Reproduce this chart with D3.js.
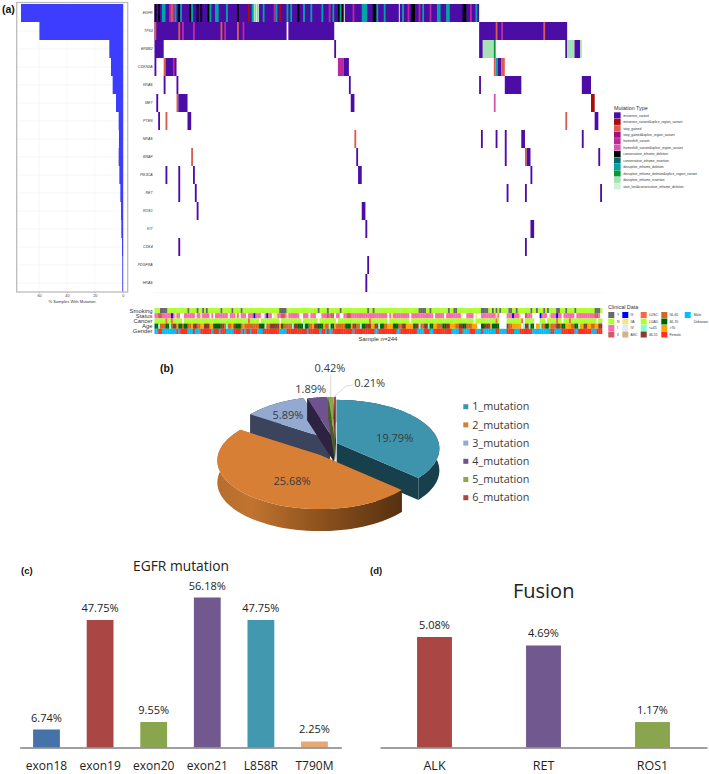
<!DOCTYPE html>
<html><head><meta charset="utf-8">
<script src="https://cdn.jsdelivr.net/npm/d3@7"></script>
<style>html,body{margin:0;padding:0;background:#fff}svg{display:block}text{fill:#333}</style>
</head><body><svg id="c" width="709" height="774"></svg>
<script>
// ---------- panel (a) data ----------
const genes = ["EGFR","TP53","ERBB2","CDKN2A","KRAS","MET","PTEN","NRAS","BRAF","PIK3CA","RET","ROS1","KIT","CDK4","PDGFRA","HRAS"];
const genePct = [72.9,59.7,9.6,8.4,7.2,4.8,2.9,2.7,2.9,2.4,1.7,1.2,1,0.5,0.3,0.3];
const mutationTypes = ["missense_variant","missense_variant&splice_region_variant","stop_gained","stop_gained&splice_region_variant","frameshift_variant","frameshift_variant&splice_region_variant","conservative_inframe_deletion","conservative_inframe_insertion","disruptive_inframe_deletion","disruptive_inframe_deletion&splice_region_variant","disruptive_inframe_insertion","start_lost&conservative_inframe_deletion"];
const mutationColors = ["#4b0aa5","#aa0a0a","#dc5a50","#a5107a","#bb2c9c","#d854b0","#000000","#006a6a","#00a5a5","#009a3c","#a8e2b4","#d0f0dc"];
// runs are [first sample, number of samples, mutation type]
const egfrRuns = [[0,177,0],[0,1,6],[2,1,6],[4,2,8],[8,3,4],[9,1,2],[11,1,8],[13,1,6],[14,1,8],[19,1,6],[20,1,8],[23,1,6],[25,1,6],[29,1,6],[30,1,8],[33,2,8],[39,1,8],[45,1,6],[51,1,1],[53,1,8],[54,1,10],[56,1,10],[55,1,11],[59,1,8],[65,1,4],[66,1,8],[68,1,1],[72,1,8],[74,1,8],[78,1,6],[81,1,8],[85,1,8],[91,1,8],[95,1,4],[97,1,8],[100,1,6],[101,1,8],[102,1,6],[108,1,4],[113,3,8],[119,2,6],[121,1,8],[125,1,8],[135,1,8],[138,1,4],[140,2,6],[144,1,4],[146,1,8],[150,1,4],[154,2,8],[159,2,8],[168,2,6],[172,1,4],[175,1,8]];
const egfrGaps = [103,133];
const tp53Runs = [[0,72,0],[73,25,0],[177,48,0],[0,1,2],[13,1,2],[15,1,4],[21,1,4],[36,1,2],[38,1,4],[45,1,2],[48,1,4],[186,1,2],[189,1,4],[212,1,2]];
const erbb2Runs = [[0,5,0],[98,1,0],[177,2,0],[179,6,10],[185,1,9],[224,1,0],[225,4,10],[229,3,0],[232,1,10]];
const cdkn2aRuns = [[0,1,0],[5,1,2],[6,6,0],[10,1,4],[100,3,4],[103,3,0],[185,1,2],[186,1,8],[187,2,0],[189,2,2]];
const krasRuns = [[5,1,0],[12,1,0],[106,1,0],[177,1,0],[191,9,0],[233,5,0]];
const metRuns = [[1,1,0],[12,1,2],[13,5,0],[107,2,0],[185,1,5],[238,2,1]];
const ptenRuns = [[2,1,0],[6,1,2],[18,2,0],[224,1,2],[240,2,0]];
const nrasRuns = [[109,1,2],[178,1,0],[186,1,0],[191,1,0],[200,2,0],[233,1,0]];
const brafRuns = [[20,1,2],[110,1,0],[191,1,0],[202,1,2],[203,2,0],[242,1,0]];
const pik3caRuns = [[6,1,0],[13,1,0],[21,1,0],[111,2,0],[205,1,0]];
const retRuns = [[13,1,0],[22,1,0],[192,1,0],[202,1,0],[243,1,0]];
const ros1Runs = [[23,1,0],[113,2,0]];
const kitRuns = [[115,1,0],[205,2,0]];
const cdk4Runs = [[13,1,0],[202,1,0]];
const pdgfraRuns = [[116,1,0]];
const hrasRuns = [[115,1,0]];
const geneRuns = [egfrRuns,tp53Runs,erbb2Runs,cdkn2aRuns,krasRuns,metRuns,ptenRuns,nrasRuns,brafRuns,pik3caRuns,retRuns,ros1Runs,kitRuns,cdk4Runs,pdgfraRuns,hrasRuns];

const clinicalTracks = ["Smoking","Status","Cancer","Age","Gender"];
const clinicalColors = {Y:"#696969",N:"#adff2f",I:"#ff69b4",II:"#cd5c5c",III:"#0000ff",IIA:"#f0e68c",IV:"#e6e6fa",ASC:"#d2b48c",LUSC:"#ff6347",LUAD:"#adff2f","<=45":"#7fffd4","46-55":"#8b3a2a","56-65":"#d2691e","66-70":"#006400",">70":"#ffa500",Female:"#ff3020",Male:"#00bfff",Unknown:"#ffffff"};
const smokingYes = [3,4,5,6,18,23,26,28,36,42,47,68,69,70,71,89,94,101,116,119,144,145,146,147,150,160,163,164,178,179,180,181,184,186,188,193,194,197,205,208,212,214,219,220,224,229,240,241,242];
const statusII = [2,3,69,70,94,96,97,105,106,240,241,201,202];
const statusIII = [9,54,61,195,210,219];
const statusIIA = [11,25,44,65,66,72,129,167,175,186,199,215];
const statusUnknown = [14,15,22,30,32,40,46,50,58,59,64,79,80,84,88,89,90,98,101,102,127,139,152,158,168,169,174,176,177,188,189,190,191,200,201,206,207,208,209,214,222,229,243];
const cancerLUSC = [6,9,51,117,186,191,200,219,226];
const cancerUnknown = [15,57,68,80,89,99,127,139,174,188,189,190,191,201,207,208,209,213,222,241];
// age: repeated [count, label] runs along the samples
const ageRuns = [[2,"66-70"],[1,"<=45"],[3,"56-65"],[2,"66-70"],[1,"<=45"],[1,"56-65"],[2,"46-55"],[1,">70"],[2,"66-70"],[1,"56-65"],[2,"66-70"],[2,"56-65"],[1,">70"],[2,"46-55"],[2,"56-65"],[2,">70"],[3,"46-55"],[2,">70"],[4,"66-70"],[2,"46-55"],[1,"56-65"],[1,"<=45"],[2,"56-65"],[1,">70"],[1,"46-55"],[3,"66-70"],[1,"56-65"],[1,">70"],[8,"56-65"],[3,"66-70"],[1,"<=45"],[2,"56-65"],[5,"46-55"],[1,">70"],[1,"66-70"],[5,"56-65"],[1,"<=45"],[2,"46-55"],[3,"66-70"],[1,"<=45"],[2,"66-70"],[2,"56-65"],[1,">70"],[2,"46-55"],[3,"66-70"],[1,">70"],[2,"56-65"],[1,"<=45"],[2,"66-70"],[1,">70"],[5,"56-65"],[3,"66-70"],[1,">70"],[2,"46-55"],[2,"56-65"],[1,"<=45"],[2,"66-70"],[3,"46-55"],[2,">70"],[2,"46-55"],[1,"<=45"],[2,"66-70"],[2,"56-65"],[3,">70"],[3,"66-70"],[2,"56-65"],[2,"46-55"],[4,">70"],[1,"66-70"],[2,"46-55"],[1,"<=45"],[2,"56-65"],[2,"46-55"],[1,"<=45"],[2,"66-70"],[2,">70"],[3,"56-65"],[2,"66-70"],[2,"46-55"],[3,">70"],[2,"56-65"],[2,"46-55"],[2,"66-70"],[3,"56-65"],
 [3,">70"],[2,"Unknown"],[2,"66-70"],[3,"46-55"],[1,">70"],[4,"66-70"],[4,"Unknown"],[1,"46-55"],[2,"56-65"],[5,">70"],[1,"Unknown"],[1,"<=45"],[2,"46-55"],[1,"<=45"],[2,"66-70"],[1,"Unknown"],[2,">70"],[1,"<=45"],[2,"56-65"],[2,"66-70"],[1,">70"],[3,"56-65"],[2,"46-55"],[1,"56-65"],[2,"66-70"],[3,">70"],[2,"56-65"],[2,"66-70"],[1,"<=45"],[2,">70"],[2,"46-55"],[2,">70"],[2,"56-65"],[2,">70"],[2,"46-55"]];
const genderMale = [[0,2],[4,4],[8,4],[13,1],[18,3],[22,3],[31,1],[35,1],[39,4],[47,1],[49,1],[52,1],[56,3],[68,4],[83,1],[90,1],[93,1],[95,2],[108,1],[120,2],[132,2],[143,4],[150,2],[162,4],[168,4],[175,3],[179,7],[188,4],[196,3],[206,10],[218,4],[229,2],[238,3]];

// ---------- panels (b), (c), (d) data ----------
const pieLabels = ["1_mutation","2_mutation","3_mutation","4_mutation","5_mutation","6_mutation"];
const pieValues = [19.79,25.68,5.89,1.89,0.42,0.21];
const pieTopColors = ["#3f94ad","#d87f36","#93a9cf","#6e5390","#8aa84c","#b04540"];
const pieWallColors = ["#173f4c","url(#orangeWall)","#3b445c","#2d2240","#4c5c28","#6a2522"];
const egfrCats = ["exon18","exon19","exon20","exon21","L858R","T790M"];
const egfrVals = [6.74,47.75,9.55,56.18,47.75,2.25];
const egfrColors = ["#4572a7","#aa4644","#89a54e","#71588f","#4198af","#e8a873"];
const fusionCats = ["ALK","RET","ROS1"];
const fusionVals = [5.08,4.69,1.17];
const fusionColors = ["#aa4644","#71588f","#89a54e"];

// ---------- setup ----------
const svg = d3.select("#c");
const defs = svg.append("defs");
defs.append("filter").attr("id","soft")
  .attr("filterUnits","userSpaceOnUse").attr("x",0).attr("y",0).attr("width",709).attr("height",350)
  .append("feGaussianBlur").attr("stdDeviation",0.4);
const sans = "'Liberation Sans',Arial,sans-serif", open = "'Open Sans',sans-serif";
const panelLabel = (t,x,y,s)=>svg.append("text").text(t).attr("x",x).attr("y",y).attr("font-family",sans).attr("font-weight","bold").attr("font-size",s).style("fill","#111");
panelLabel("(a)",2,13,10.5); panelLabel("(b)",160,372,10.5); panelLabel("(c)",21,574,9.5); panelLabel("(d)",370,574,9.5);

// ---------- (a) left bars ----------
const rowY = d3.scaleBand().domain(genes).range([4,292]);
const pctX = d3.scaleLinear().domain([0,60]).range([122.7,39]);
const left = svg.append("g");
left.selectAll("line.v").data([60,40,20,0]).join("line").attr("x1",d=>pctX(d)).attr("x2",d=>pctX(d)).attr("y1",3).attr("y2",291).attr("stroke","#f0f0f0").attr("stroke-width",.6);
left.selectAll("line.h").data(genes).join("line").attr("x1",17).attr("x2",127).attr("y1",d=>rowY(d)+rowY.bandwidth()/2).attr("y2",d=>rowY(d)+rowY.bandwidth()/2).attr("stroke","#f0f0f0").attr("stroke-width",.6);
left.append("g").attr("filter","url(#soft)").selectAll("rect").data(genes).join("rect")
  .attr("x",(d,i)=>pctX(genePct[i])).attr("y",d=>rowY(d)).attr("width",(d,i)=>pctX(0)-pctX(genePct[i])+.5).attr("height",rowY.bandwidth()).attr("fill","#3c3cff");
left.append("rect").attr("x",16.7).attr("y",2.5).attr("width",111).attr("height",289.5).attr("fill","none").attr("stroke","#bcbcbc").attr("stroke-width",1.3);
const lax = left.append("g").attr("transform","translate(0,292)").call(d3.axisBottom(pctX).tickValues([60,40,20,0]).tickSize(1.5).tickPadding(1));
lax.select(".domain").remove();
lax.selectAll("text").attr("font-size",3.8).attr("font-family",sans).style("fill","#444");
lax.selectAll("line").attr("stroke","#999").attr("stroke-width",.5);
left.append("text").text("% Samples With Mutation").attr("x",72).attr("y",302.5).attr("text-anchor","middle").attr("font-size",4.1).attr("font-family",sans).style("fill","#333");

// ---------- (a) oncoprint ----------
const sampleX = d3.scaleLinear().domain([0,244]).range([154.5,602]);
const onco = svg.append("g").attr("filter","url(#soft)");
geneRuns.forEach((runs,g)=>{
  onco.append("g").selectAll("rect").data(runs).join("rect")
    .attr("x",d=>sampleX(d[0])).attr("width",d=>sampleX(d[0]+d[1])-sampleX(d[0]))
    .attr("y",rowY(genes[g])).attr("height",rowY.bandwidth()).attr("fill",d=>mutationColors[d[2]]);
});
onco.append("g").selectAll("rect").data(egfrGaps).join("rect").attr("x",d=>sampleX(d)+.4).attr("width",1).attr("y",rowY("EGFR")).attr("height",rowY.bandwidth()).attr("fill","#e8e8e8");
svg.append("g").selectAll("text").data(genes).join("text").text(d=>d)
  .attr("x",152.7).attr("y",d=>rowY(d)+rowY.bandwidth()/2+1.2).attr("text-anchor","end").attr("font-size",3.6).attr("font-style","italic").attr("font-family",sans).style("fill","#333");
svg.append("line").attr("x1",154).attr("x2",603).attr("y1",292.8).attr("y2",292.8).attr("stroke","#f0f0f0").attr("stroke-width",.6);

// mutation legend
const mutLeg = svg.append("g");
mutLeg.append("text").text("Mutation Type").attr("x",614).attr("y",109.5).attr("font-size",5.4).attr("font-family",sans);
const mutY = d3.scaleBand().domain(d3.range(mutationTypes.length)).range([112.3,189.7]);
const mutG = mutLeg.selectAll("g").data(mutationTypes).join("g").attr("transform",(d,i)=>`translate(614,${mutY(i)})`);
mutG.append("rect").attr("width",6.6).attr("height",mutY.bandwidth()-.3).attr("fill",(d,i)=>mutationColors[i]).attr("filter","url(#soft)");
mutG.append("text").text(d=>d).attr("x",9.3).attr("y",4.4).attr("font-size",3.3).attr("font-family",sans).style("fill","#333");

// clinical tracks
const trackY = d3.scaleBand().domain(clinicalTracks).range([308,334]);
const smokingSamples = d3.range(244).map(i=>smokingYes.includes(i)?"Y":"N");
const statusSamples = d3.range(244).map(i=>statusUnknown.includes(i)?"Unknown":statusIII.includes(i)?"III":statusII.includes(i)?"II":statusIIA.includes(i)?"IIA":"I");
const cancerSamples = d3.range(244).map(i=>cancerUnknown.includes(i)?"Unknown":cancerLUSC.includes(i)?"LUSC":"LUAD");
const ageSamples = ageRuns.flatMap(r=>d3.range(r[0]).map(()=>r[1]));
const genderSamples = d3.range(244).map(i=>genderMale.some(r=>i>=r[0]&&i<r[0]+r[1])?"Male":"Female");
const trackSamples = [smokingSamples,statusSamples,cancerSamples,ageSamples,genderSamples];
const clin = svg.append("g").attr("filter","url(#soft)");
trackSamples.forEach((vals,t)=>{
  clin.append("g").selectAll("rect").data(vals.slice(0,244)).join("rect")
    .attr("x",(d,i)=>sampleX(i)).attr("width",(d,i)=>sampleX(i+1)-sampleX(i)+.3)
    .attr("y",trackY(clinicalTracks[t])).attr("height",trackY.bandwidth()).attr("fill",d=>clinicalColors[d]);
});
svg.append("g").selectAll("text").data(clinicalTracks).join("text").text(d=>d)
  .attr("x",152.5).attr("y",d=>trackY(d)+trackY.bandwidth()/2+2).attr("text-anchor","end").attr("font-size",5.9).attr("font-family",sans).style("fill","#333");
svg.append("text").text("Sample n=244").attr("x",378).attr("y",341).attr("text-anchor","middle").attr("font-size",6).attr("font-family",sans);

// clinical legend
const clinLegendCols = [["Y","N","I","II"],["III","IIA","IV","ASC"],["LUSC","LUAD","<=45","46-55"],["56-65","66-70",">70","Female"],["Male","Unknown"]];
const clinColXs = [608.3,622.3,640.7,661.3,684.7];
const clinRowY = d3.scaleBand().domain(d3.range(4)).range([312,338]);
svg.append("text").text("Clinical Data").attr("x",608).attr("y",309).attr("font-size",5.4).attr("font-family",sans);
clinLegendCols.forEach((col,c)=>{
  const g = svg.append("g").attr("transform",`translate(${clinColXs[c]},0)`);
  g.selectAll("rect").data(col).join("rect").attr("y",(d,i)=>clinRowY(i)).attr("width",6).attr("height",6).attr("fill",d=>clinicalColors[d]).attr("filter","url(#soft)");
  g.selectAll("text").data(col).join("text").text(d=>d).attr("x",c==0?8.6:c==4?9:8.2).attr("y",(d,i)=>clinRowY(i)+4.1).attr("font-size",3.4).attr("font-family",sans);
});

// ---------- (b) 3-D pie ----------
const persp = 0.113, pieRx = 102, pieRy = 48, pieDepth = 22;
const pieCenters = [[336.7,443],[320,455],[330,439.5],[334,440],[335,440],[336,440]];
const arcs = d3.pie().sort(null)(pieValues);
const project = (c,a,r=1,dy=0)=>{ const X=Math.sin(a)*r, Y=-Math.cos(a)*r, s=1-persp*Y; return [c[0]+pieRx*X/s, c[1]+pieRy*Y/s+dy]; };
const wg = defs.append("linearGradient").attr("id","orangeWall").attr("gradientUnits","userSpaceOnUse").attr("x1",214).attr("x2",402).attr("y1",0).attr("y2",0);
[[0,"#b56d2e"],[.2,"#c0742f"],[.5,"#96571f"],[1,"#553010"]].forEach(s=>wg.append("stop").attr("offset",s[0]).attr("stop-color",s[1]));
const line = d3.line();
const pie = svg.append("g");
const drawOrder = [0,2,3,4,5,1];
drawOrder.forEach(k=>{
  const c = pieCenters[k], a0 = arcs[k].startAngle, a1 = arcs[k].endAngle;
  const angles = d3.range(0,61).map(i=>a0+(a1-a0)*i/60);
  const top = angles.map(a=>project(c,a));
  const bottom = angles.map(a=>project(c,a,1,pieDepth)).reverse();
  const g = pie.append("g");
  const apex = [c[0],c[1]], apexB = [c[0],c[1]+pieDepth];
  g.append("path").attr("d",line([...top,...bottom])+"Z").attr("fill",pieWallColors[k]);
  [top[0],top[60]].forEach(p=>{
    g.append("path").attr("d",line([apex,p,[p[0],p[1]+pieDepth],apexB])+"Z").attr("fill",pieWallColors[k]);
  });
  g.append("path").attr("d",line([apex,...top])+"Z").attr("fill",pieTopColors[k]);
});
const pieLabelPos = [[394.7,441.5],[292,485],[288,419],[310.7,393],[330,372],[369.7,387]];
svg.append("line").attr("x1",330.7).attr("x2",330.7).attr("y1",375).attr("y2",397).attr("stroke","#c8c8c8").attr("stroke-width",.7);
svg.append("polyline").attr("points","352.7,385 346,386 334,396.7").attr("fill","none").attr("stroke","#c8c8c8").attr("stroke-width",.7);
svg.append("g").selectAll("text").data(pieValues).join("text").text(d=>d.toFixed(2)+"%")
  .attr("x",(d,i)=>pieLabelPos[i][0]).attr("y",(d,i)=>pieLabelPos[i][1]).attr("text-anchor","middle").attr("font-size",11).attr("font-family",open).style("fill","#3a3a3a");
const pieLegY = d3.scaleBand().domain(pieLabels).range([397.6,506.8]);
const pl = svg.append("g").selectAll("g").data(pieLabels).join("g").attr("transform",d=>`translate(463.3,${pieLegY(d)})`);
pl.append("rect").attr("y",pieLegY.bandwidth()/2-2.5).attr("width",5).attr("height",5).attr("fill",(d,i)=>pieTopColors[i]);
pl.append("text").text(d=>d).attr("x",9).attr("y",pieLegY.bandwidth()/2+3.8).attr("font-size",10.8).attr("font-family",open).style("fill","#3a3a3a");

// ---------- (c), (d) bars ----------
function barPanel(cats,vals,colors,xRange,pxPerUnit,padI,padO,titleText,titleX,titleY,titleSize,labelGap,catSize){
  const x = d3.scaleBand().domain(cats).range(xRange).paddingInner(padI).paddingOuter(padO);
  const base = 747.5, y = d3.scaleLinear().domain([0,1]).range([base,base-pxPerUnit]);
  const g = svg.append("g");
  g.selectAll("rect").data(cats).join("rect").attr("x",d=>x(d)).attr("width",x.bandwidth())
    .attr("y",(d,i)=>y(vals[i])).attr("height",(d,i)=>base-y(vals[i])).attr("fill",(d,i)=>colors[i]);
  const ax = g.append("g").attr("transform",`translate(0,${base})`).call(d3.axisBottom(x).tickSize(0).tickPadding(14));
  ax.select(".domain").attr("stroke","#808080").attr("stroke-width",1.3);
  ax.selectAll("text").attr("font-size",catSize).attr("font-family",open).style("fill","#222");
  g.selectAll("text.v").data(vals).join("text").attr("class","v").text(d=>d.toFixed(2)+"%")
    .attr("x",(d,i)=>x(cats[i])+x.bandwidth()/2).attr("y",(d,i)=>y(d)-labelGap).attr("text-anchor","middle").attr("font-size",11).attr("font-family",open).style("fill","#222");
  g.append("text").text(titleText).attr("x",titleX).attr("y",titleY).attr("text-anchor","middle").attr("font-size",titleSize).attr("font-family",open).style("fill","#222");
}
barPanel(egfrCats,egfrVals,egfrColors,[19.7,341.3],150/56.18,.5,.25,"EGFR mutation",181,571,13.8,8,12);
barPanel(fusionCats,fusionVals,fusionColors,[380,707],110.5/5.08,.68,.34,"Fusion",543.7,598,20,8.5,12.5);
</script></body></html>
